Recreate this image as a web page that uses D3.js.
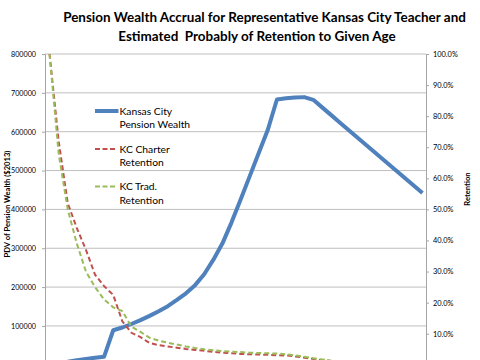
<!DOCTYPE html>
<html><head><meta charset="utf-8">
<script src="https://cdn.jsdelivr.net/npm/d3@7"></script>
<style>
html,body{margin:0;padding:0;background:#fff;}
text{font-family:Lato,"Open Sans",sans-serif;fill:#000;}
</style></head>
<body>
<svg id="chart" width="480" height="360"></svg>
<script>
// ---- data ----
const titleLines = ["Pension Wealth Accrual for Representative Kansas City Teacher and", "Estimated  Probably of Retention to Given Age"];
const ages = [22,23,24,25,26,27,28,29,30,31,32,33,34,35,36,37,38,39,40,41,42,43,44,45,46,47,48,49,50,51,52,53,54,55,56,57,58,59,60,61,62,63];
const pensionWealth = [2000,5000,8000,12000,15000,18000,21000,89000,96000,105000,115000,126000,138000,151000,167000,184000,205000,233000,270000,312000,366000,425000,485000,545000,605000,683000,686000,688000,689000,682000,662000,642000,622000,602000,582000,562000,542000,522000,502000,482000,462000,442000];
const charterRetention = [1.00,0.72,0.52,0.44,0.37,0.29,0.253,0.225,0.14,0.103,0.089,0.070,0.063,0.059,0.055,0.051,0.048,0.045,0.042,0.039,0.037,0.035,0.034,0.033,0.032,0.031,0.030,0.027,0.023,0.019,0.015,0.012,0.009,0.007,0.005,0.004,0.003,0.002,0.001,0.001,0.0,0.0];
const tradRetention = [1.00,0.68,0.50,0.39,0.30,0.25,0.21,0.185,0.173,0.123,0.106,0.087,0.078,0.071,0.065,0.059,0.054,0.050,0.047,0.044,0.042,0.041,0.039,0.038,0.037,0.036,0.034,0.030,0.026,0.021,0.017,0.013,0.010,0.008,0.006,0.005,0.004,0.003,0.002,0.001,0.0,0.0];
const leftTicks = [100000,200000,300000,400000,500000,600000,700000,800000];
const rightTicks = [0.1,0.2,0.3,0.4,0.5,0.6,0.7,0.8,0.9,1.0];
const seriesNames = [["Kansas City","Pension Wealth"],["KC Charter","Retention"],["KC Trad.","Retention"]];
const colors = ["#4F81BD","#C0504D","#9BBB59"];
const leftTitle = "PDV of Pension Wealth ($2013)";
const rightTitle = "Retention";

// ---- layout ----
const svg = d3.select("#chart");
const L = 45, R = 426, T = 54, B = 364.8;
const x = d3.scalePoint().domain(ages).range([L, R + 1]).padding(0.5);
const y = d3.scaleLinear().domain([0, 800000]).range([B, T]);
const yR = d3.scaleLinear().domain([0, 1]).range([B, T]);

// gridlines
svg.append("g").selectAll("line").data(leftTicks).join("line")
  .attr("x1", L).attr("x2", R).attr("y1", d => y(d)).attr("y2", d => y(d))
  .attr("stroke", "#BFBFBF").attr("stroke-width", 1);

// left axis
const gL = svg.append("g").attr("transform", `translate(${L},0)`)
  .call(d3.axisLeft(y).tickValues(leftTicks).tickSize(3).tickPadding(6).tickFormat(d3.format("d")));
gL.select(".domain").attr("stroke", "#A6A6A6");
gL.selectAll(".tick line").attr("stroke", "#A6A6A6");
gL.selectAll("text").style("font-size", "7.2px").attr("fill", "#222");

// right axis
const gR = svg.append("g").attr("transform", `translate(${R},0)`)
  .call(d3.axisRight(yR).tickValues(rightTicks).tickSize(3).tickPadding(4).tickFormat(d3.format(".1%")));
gR.select(".domain").attr("stroke", "#A6A6A6");
gR.selectAll(".tick line").attr("stroke", "#A6A6A6");
gR.selectAll("text").style("font-size", "7.4px").attr("fill", "#222");

// axis titles
svg.append("text").attr("transform", "translate(10,204) rotate(-90)")
  .attr("text-anchor", "middle").style("font-size", "7.6px").style("font-weight", "bold").text(leftTitle);
svg.append("text").attr("transform", "translate(470,189) rotate(-90)")
  .attr("text-anchor", "middle").style("font-size", "7.6px").style("font-weight", "bold").text(rightTitle);

// lines
const lineL = d3.line().x((d, i) => x(ages[i])).y(d => y(d));
const lineR = d3.line().x((d, i) => x(ages[i])).y(d => yR(d));
svg.append("path").datum(pensionWealth).attr("d", lineL)
  .attr("fill", "none").attr("stroke", colors[0]).attr("stroke-width", 4).attr("stroke-linejoin", "round");
svg.append("path").datum(charterRetention).attr("d", lineR)
  .attr("fill", "none").attr("stroke", colors[1]).attr("stroke-width", 2).attr("stroke-dasharray", "5,3");
svg.append("path").datum(tradRetention).attr("d", lineR)
  .attr("fill", "none").attr("stroke", colors[2]).attr("stroke-width", 2).attr("stroke-dasharray", "5,3");

// legend
const legBase = [114.5, 152.5, 190];
seriesNames.forEach((nm, i) => {
  const g = svg.append("g");
  g.append("line").attr("x1", 95).attr("x2", i === 0 ? 118.5 : 115)
    .attr("y1", legBase[i] - 3.5).attr("y2", legBase[i] - 3.5)
    .attr("stroke", colors[i]).attr("stroke-width", i === 0 ? 4 : 2)
    .attr("stroke-dasharray", i === 0 ? null : "5,2.5");
  nm.forEach((t, j) => {
    g.append("text").attr("x", 119.5).attr("y", legBase[i] + j * 13.5)
      .style("font-size", "10.3px").text(t);
  });
});

// title: both lines same size, fitted to the first line's width
const t1 = svg.append("text").attr("x", 264.5).attr("y", 22).attr("text-anchor", "middle")
  .style("font-weight", "bold").style("white-space", "pre").style("font-size", "13px").text(titleLines[0]);
const fs = 13 * 403 / t1.node().getComputedTextLength();
t1.style("font-size", fs + "px");
svg.append("text").attr("x", 257).attr("y", 40.5).attr("text-anchor", "middle")
  .style("font-weight", "bold").style("white-space", "pre").style("font-size", fs + "px").text(titleLines[1]);
</script>
</body></html>
